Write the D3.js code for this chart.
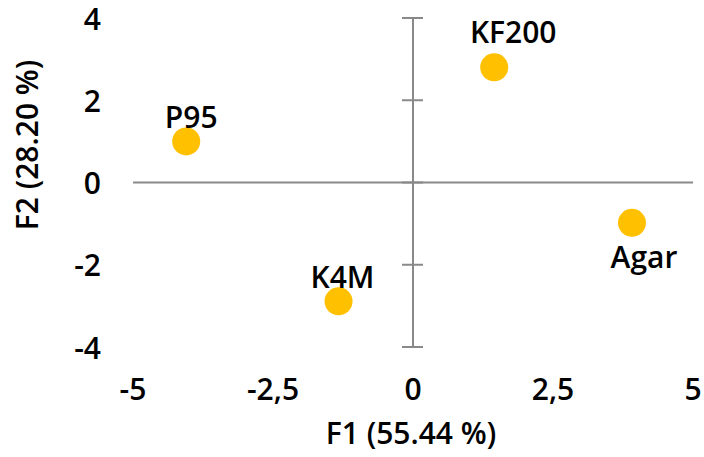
<!DOCTYPE html>
<html>
<head>
<meta charset="utf-8">
<script src="https://cdn.jsdelivr.net/npm/d3@7"></script>
<style>
  html, body { margin: 0; padding: 0; background: #fff; }
  svg { display: block; }
  text { font-family: "Open Sans", "Noto Sans", sans-serif; font-weight: 600; fill: #000; }
</style>
</head>
<body>
<svg id="chart" width="704" height="457"></svg>
<script>
// ---- data ----
const names = ["P95", "KF200", "K4M", "Agar"];
const f1 = [-4.05, 1.45, -1.33, 3.91];
const f2 = [1.0, 2.8, -2.89, -0.98];
const xTicks = [-5, -2.5, 0, 2.5, 5];
const xTickLabels = ["-5", "-2,5", "0", "2,5", "5"];
const yTicks = [4, 2, 0, -2, -4];
const yTickLabels = ["4", "2", "0", "-2", "-4"];
const xTitle = "F1 (55.44 %)";
const yTitle = "F2 (28.20 %)";

// ---- drawing ----
const svg = d3.select("#chart");
const x = d3.scaleLinear().domain([-5, 5]).range([133, 693]);
const y = d3.scaleLinear().domain([-4, 4]).range([347, 18]);
const axisColor = "#898989";
const fontSize = 30;

svg.append("line")
  .attr("x1", x(-5)).attr("x2", x(5))
  .attr("y1", y(0)).attr("y2", y(0))
  .attr("stroke", axisColor).attr("stroke-width", 2);

svg.append("line")
  .attr("x1", x(0)).attr("x2", x(0))
  .attr("y1", y(4)).attr("y2", y(-4))
  .attr("stroke", axisColor).attr("stroke-width", 2);

svg.selectAll(".ytick").data(yTicks).enter().append("line")
  .attr("x1", x(0) - 11).attr("x2", x(0) + 10)
  .attr("y1", d => y(d)).attr("y2", d => y(d))
  .attr("stroke", axisColor).attr("stroke-width", 2);

svg.selectAll(".ylab").data(yTicks).enter().append("text")
  .attr("x", 101).attr("y", d => y(d))
  .attr("text-anchor", "end")
  .attr("dominant-baseline", "central")
  .style("font-size", fontSize + "px")
  .text((d, i) => yTickLabels[i]);

svg.selectAll(".xlab").data(xTicks).enter().append("text")
  .attr("x", d => x(d)).attr("y", 400)
  .attr("text-anchor", "middle")
  .style("font-size", fontSize + "px")
  .text((d, i) => xTickLabels[i]);

svg.append("text")
  .attr("x", 411).attr("y", 444)
  .attr("text-anchor", "middle")
  .style("font-size", fontSize + "px")
  .text(xTitle);

svg.append("text")
  .attr("transform", "translate(38,145) rotate(-90)")
  .attr("text-anchor", "middle")
  .style("font-size", fontSize + "px")
  .text(yTitle);

const pts = names.map((n, i) => ({ name: n, x: f1[i], y: f2[i] }));
svg.selectAll(".pt").data(pts).enter().append("circle")
  .attr("cx", d => x(d.x)).attr("cy", d => y(d.y))
  .attr("r", 14)
  .attr("fill", "#FFC000");

const labelOffsets = {
  "P95": [5, -13],
  "KF200": [19, -24],
  "K4M": [4, -13],
  "Agar": [12, 45]
};
svg.selectAll(".plab").data(pts).enter().append("text")
  .attr("x", d => x(d.x) + labelOffsets[d.name][0])
  .attr("y", d => y(d.y) + labelOffsets[d.name][1])
  .attr("text-anchor", "middle")
  .style("font-size", fontSize + "px")
  .text(d => d.name);
</script>
</body>
</html>
